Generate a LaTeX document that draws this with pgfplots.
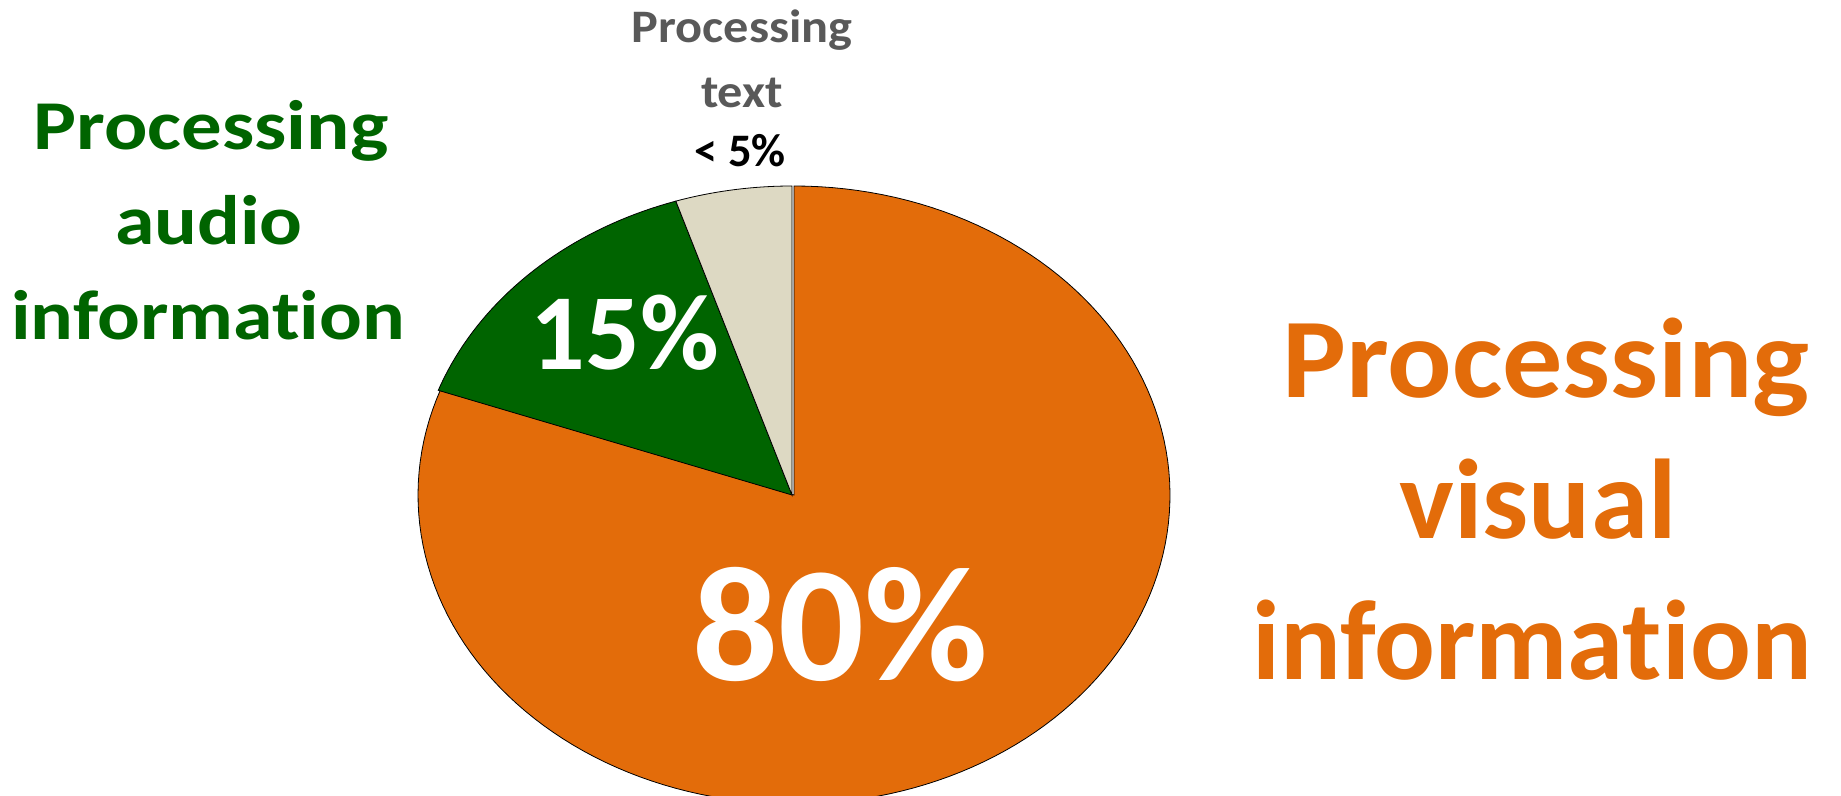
\documentclass[border=0pt]{standalone}
\usepackage{pgfplots}
\pgfplotsset{compat=1.18}
\usepackage{fontspec}
\setmainfont{Carlito}[Ligatures={NoCommon}]
\definecolor{orangeC}{HTML}{E36C0A}
\definecolor{greenC}{HTML}{006400}
\definecolor{beigeC}{HTML}{DDD9C3}
\definecolor{grayC}{HTML}{595959}
% shares in percent
\def\pVisual{80.5}
\def\pAudio{14.5}
\def\pText{5}
\begin{document}
\begin{tikzpicture}
\path[use as bounding box] (0,0) rectangle (920.5pt,398pt);
\pgfmathsetmacro{\aA}{90}
\pgfmathsetmacro{\aB}{90-3.6*\pVisual}
\pgfmathsetmacro{\aC}{\aB-3.6*\pAudio}
\pgfmathsetmacro{\aD}{\aC-3.6*\pText}
\begin{axis}[
  at={(0,0)}, anchor=south west,
  width=920.5pt, height=398pt, scale only axis,
  xmin=0, xmax=1841, ymin=0, ymax=796,
  hide axis, clip=true,
]
\addplot[fill=orangeC, draw=black, line width=0.4pt, domain=\aB:\aA, samples=150, variable=\t]
  ({794+376*cos(t)},{301+309*sin(t)}) -- (axis cs:794,301) -- cycle;
\addplot[fill=greenC, draw=black, line width=0.4pt, domain=\aC:\aB, samples=40, variable=\t]
  ({792+376*cos(t)},{301+309*sin(t)}) -- (axis cs:792,301) -- cycle;
\addplot[fill=beigeC, draw=black, line width=0.4pt, domain=\aD:\aC, samples=20, variable=\t]
  ({792+376*cos(t)},{301+309*sin(t)}) -- (axis cs:792,301) -- cycle;

% green label
\node[anchor=base, inner sep=0pt, text=greenC, font=\bfseries\fontsize{35}{38}\selectfont] at (axis cs:211,646) {\scalebox{1.155}[1]{Processing}};
\node[anchor=base, inner sep=0pt, text=greenC, font=\bfseries\fontsize{35}{38}\selectfont] at (axis cs:209,551) {\scalebox{1.14}[1]{audio}};
\node[anchor=base, inner sep=0pt, text=greenC, font=\bfseries\fontsize{35}{38}\selectfont] at (axis cs:208,456) {\scalebox{1.14}[1]{information}};
% orange label
\node[anchor=base, inner sep=0pt, text=orangeC, font=\bfseries\fontsize{56.7}{60}\selectfont] at (axis cs:1546,398) {\scalebox{1.06}[1]{Processing}};
\node[anchor=base, inner sep=0pt, text=orangeC, font=\bfseries\fontsize{56.7}{60}\selectfont] at (axis cs:1538,257) {\scalebox{1.02}[1]{visual}};
\node[anchor=base, inner sep=0pt, text=orangeC, font=\bfseries\fontsize{56.7}{60}\selectfont] at (axis cs:1532,116) {information};
% gray label
\node[anchor=base, inner sep=0pt, text=grayC, font=\bfseries\fontsize{23.3}{26}\selectfont] at (axis cs:742,753) {\scalebox{1.08}[1]{Processing}};
\node[anchor=base, inner sep=0pt, text=grayC, font=\bfseries\fontsize{23.3}{26}\selectfont] at (axis cs:742,688) {\scalebox{1.08}[1]{text}};
\node[anchor=base, inner sep=0pt, text=black, font=\bfseries\fontsize{23.3}{26}\selectfont] at (axis cs:740,629) {< 5\%};
% slice values
\node[anchor=base, inner sep=0pt, text=white, font=\bfseries\fontsize{82}{86}\selectfont] at (axis cs:840,115) {\scalebox{1.035}[1]{80\%}};
\node[anchor=base, inner sep=0pt, text=white, font=\bfseries\fontsize{54}{58}\selectfont] at (axis cs:625,426) {15\%};
\end{axis}
\end{tikzpicture}
\end{document}
